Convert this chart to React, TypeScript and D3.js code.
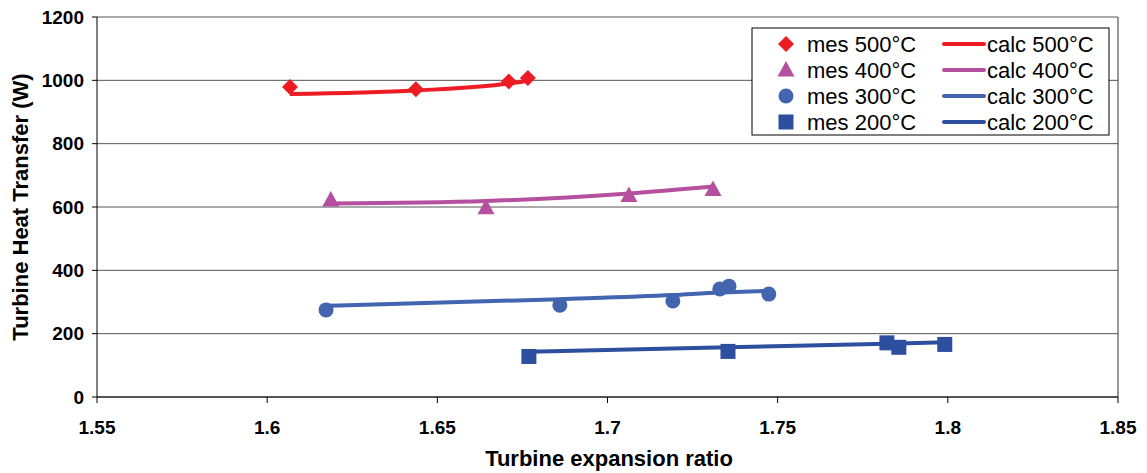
import React from "react";
import * as d3 from "d3";

const xTicks = [1.55, 1.6, 1.65, 1.7, 1.75, 1.8, 1.85];
const yTicks = [0, 200, 400, 600, 800, 1000, 1200];

const mes500X = [1.6067, 1.6437, 1.671, 1.6766];
const mes500Y = [979, 972, 996, 1007];
const calc500Y = [957, 968, 990, 999];

const mes400X = [1.6187, 1.6643, 1.7063, 1.731];
const mes400Y = [622, 598, 636, 655];
const calc400Y = [611, 619, 643, 665];

const mes300X = [1.6173, 1.686, 1.7192, 1.733, 1.7357, 1.7474];
const mes300Y = [275, 290, 303, 341, 350, 325];
const calc300Y = [288, 309, 322, 330, 331, 335];

const mes200X = [1.6769, 1.7354, 1.7821, 1.7856, 1.7991];
const mes200Y = [128, 144, 171, 157, 166];
const calc200Y = [143, 157, 168, 169, 173];

const labels = ["500°C", "400°C", "300°C", "200°C"];
const colors = ["#ED1C24", "#B5509F", "#4365B0", "#2E4E9F"];
const shapes = ["diamond", "triangle", "circle", "square"];

const series = [
  { xs: mes500X, ys: mes500Y, cs: calc500Y },
  { xs: mes400X, ys: mes400Y, cs: calc400Y },
  { xs: mes300X, ys: mes300Y, cs: calc300Y },
  { xs: mes200X, ys: mes200Y, cs: calc200Y },
];

const L = 97, R = 1118, T = 17, B = 397;
const x = d3.scaleLinear().domain([1.55, 1.85]).range([L, R]);
const y = d3.scaleLinear().domain([0, 1200]).range([B, T]);

function Marker({ shape, cx, cy, color }: { shape: string; cx: number; cy: number; color: string }) {
  if (shape === "diamond") {
    const s = 8;
    return <polygon points={`${cx},${cy - s} ${cx + s},${cy} ${cx},${cy + s} ${cx - s},${cy}`} fill={color} />;
  }
  if (shape === "triangle") {
    return <polygon points={`${cx},${cy - 9} ${cx + 8.5},${cy + 6.5} ${cx - 8.5},${cy + 6.5}`} fill={color} />;
  }
  if (shape === "circle") {
    return <circle cx={cx} cy={cy} r={7.5} fill={color} />;
  }
  return <rect x={cx - 7.5} y={cy - 7.5} width={15} height={15} fill={color} />;
}

export default function App() {
  const line = d3
    .line<[number, number]>()
    .x((d) => x(d[0]))
    .y((d) => y(d[1]))
    .curve(d3.curveMonotoneX);
  const font = "'Liberation Sans', Arial, sans-serif";
  return (
    <svg width={1147} height={473} style={{ position: "absolute", left: 0, top: 0, background: "#fff" }} fontFamily={font}>
      {yTicks.map((t) => (
        <line key={"g" + t} x1={L} x2={R} y1={y(t)} y2={y(t)} stroke="#555" strokeWidth={1} />
      ))}
      <line x1={R} x2={R} y1={T} y2={B} stroke="#333" strokeWidth={1} />
      {yTicks.map((t) => (
        <g key={"y" + t}>
          <line x1={L - 5} x2={L} y1={y(t)} y2={y(t)} stroke="#000" />
          <text x={84} y={y(t) + 6.5} textAnchor="end" fontSize={19} fontWeight="bold">{t}</text>
        </g>
      ))}
      {xTicks.map((t) => (
        <g key={"x" + t}>
          <line x1={x(t)} x2={x(t)} y1={B} y2={B + 6} stroke="#000" />
          <text x={x(t)} y={434} textAnchor="middle" fontSize={19} fontWeight="bold">{d3.format("~g")(t)}</text>
        </g>
      ))}
      <line x1={L} x2={L} y1={T} y2={B} stroke="#000" />
      <line x1={L} x2={R} y1={B} y2={B} stroke="#000" />
      <text x={609} y={466} textAnchor="middle" fontSize={22} fontWeight="bold">Turbine expansion ratio</text>
      <text transform={`translate(28,${(T + B) / 2}) rotate(-90)`} textAnchor="middle" fontSize={22} fontWeight="bold">
        Turbine Heat Transfer (W)
      </text>
      {series.map((s, i) => (
        <path key={"l" + i} d={line(s.xs.map((v, j) => [v, s.cs[j]] as [number, number])) || ""} fill="none" stroke={colors[i]} strokeWidth={4} />
      ))}
      {series.map((s, i) =>
        s.xs.map((v, j) => <Marker key={"m" + i + "_" + j} shape={shapes[i]} cx={x(v)} cy={y(s.ys[j])} color={colors[i]} />)
      )}
      <rect x={752} y={28} width={357} height={107} fill="#fff" stroke="#000" strokeWidth={1} />
      {labels.map((lab, i) => {
        const cy = 44 + i * 26;
        return (
          <g key={"lg" + i}>
            <Marker shape={shapes[i]} cx={786} cy={cy} color={colors[i]} />
            <text x={807} y={cy + 8} fontSize={22}>mes {lab}</text>
            <line x1={944} x2={984} y1={cy} y2={cy} stroke={colors[i]} strokeWidth={4} strokeLinecap="round" />
            <text x={987} y={cy + 8} fontSize={22}>calc {lab}</text>
          </g>
        );
      })}
    </svg>
  );
}
